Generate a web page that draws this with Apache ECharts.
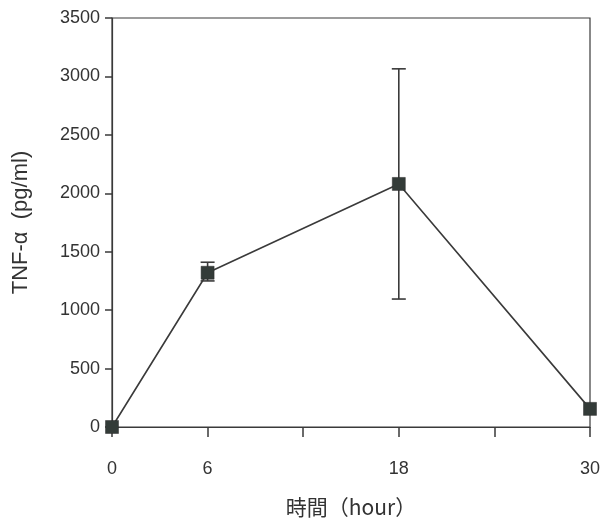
<!DOCTYPE html>
<html><head><meta charset="utf-8">
<script src="https://cdn.jsdelivr.net/npm/echarts@6/dist/echarts.min.js"></script>
<style>html,body{margin:0;padding:0;background:#fff}#c{width:601px;height:518px}</style>
</head><body><div id="c"></div>
<script>
const hours = [0, 6, 18, 30];
const tnfMean = [0, 1320, 2080, 155];
const errLow = [0, 1250, 1095, 155];
const errHigh = [0, 1410, 3065, 155];
const xTickLabels = {0: '0', 6: '6', 18: '18', 30: '30'};
const yTicks = [0, 500, 1000, 1500, 2000, 2500, 3000, 3500];

const chart = echarts.init(document.getElementById('c'));
const ink = '#3a3a3a';
const fontFam = '"Liberation Sans", Arial, sans-serif';
chart.setOption({
  animation: false,
  grid: {left: 112, right: 11, top: 18, bottom: 91, show: true, borderColor: ink, borderWidth: 1.2,
    backgroundColor: 'transparent', containLabel: false, outerBoundsMode: 'none'},
  xAxis: {
    type: 'value', min: 0, max: 30, interval: 6,
    axisLine: {lineStyle: {color: ink, width: 1.2}},
    axisTick: {show: true, length: 10, inside: false, lineStyle: {color: ink, width: 1.5}},
    axisLabel: {color: '#333', fontSize: 18, fontFamily: fontFam, margin: 33,
      formatter: v => (xTickLabels[v] !== undefined ? xTickLabels[v] : '')},
    splitLine: {show: false},
    name: '時間（hour）', nameLocation: 'middle', nameGap: 70,
    nameTextStyle: {color: '#333', fontSize: 21, fontFamily: '"Noto Sans CJK JP", ' + fontFam}
  },
  yAxis: {
    type: 'value', min: yTicks[0], max: yTicks[yTicks.length - 1], interval: 500,
    axisLine: {show: true, lineStyle: {color: ink, width: 1.2}},
    axisTick: {show: true, length: 7, lineStyle: {color: ink, width: 1.5}},
    axisLabel: {color: '#333', fontSize: 18, fontFamily: fontFam, margin: 12, formatter: v => String(v)},
    splitLine: {show: false},
    name: 'TNF-α  (pg/ml)', nameLocation: 'middle', nameGap: 80, nameRotate: 90,
    nameTextStyle: {color: '#333', fontSize: 22, fontFamily: fontFam}
  },
  series: [
    {
      type: 'custom',
      z: 3,
      clip: false,
      data: hours.map((h, i) => [h, errLow[i], errHigh[i]]),
      renderItem: function (params, api) {
        const x = api.value(0);
        const lo = api.coord([x, api.value(1)]);
        const hi = api.coord([x, api.value(2)]);
        if (Math.abs(lo[1] - hi[1]) < 1) return {type: 'group', children: []};
        const w = 7;
        const st = {stroke: ink, lineWidth: 1.6};
        return {type: 'group', children: [
          {type: 'line', shape: {x1: hi[0], y1: hi[1], x2: lo[0], y2: lo[1]}, style: st},
          {type: 'line', shape: {x1: hi[0] - w, y1: hi[1], x2: hi[0] + w, y2: hi[1]}, style: st},
          {type: 'line', shape: {x1: lo[0] - w, y1: lo[1], x2: lo[0] + w, y2: lo[1]}, style: st}
        ]};
      }
    },
    {
      type: 'line',
      z: 4,
      clip: false,
      data: hours.map((h, i) => [h, tnfMean[i]]),
      lineStyle: {color: ink, width: 1.6},
      symbol: 'rect', symbolSize: 13,
      itemStyle: {color: '#333b38', borderColor: '#2a2a2a', borderWidth: 0.5}
    }
  ]
});
</script></body></html>
